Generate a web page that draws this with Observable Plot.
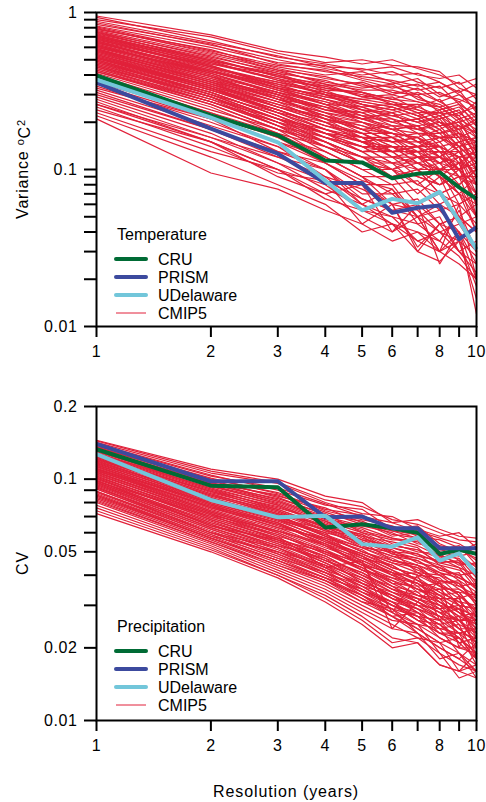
<!DOCTYPE html>
<html><head><meta charset="utf-8">
<script src="https://cdn.jsdelivr.net/npm/d3@7"></script>
<script src="https://cdn.jsdelivr.net/npm/@observablehq/plot@0.6"></script>
<style>
body{margin:0;background:#fff;}
#wrap{position:relative;width:486px;height:802px;font-family:"Liberation Sans",Arial,Helvetica,sans-serif;}
#wrap > svg{display:block;}
#legend{position:absolute;left:0;top:0;pointer-events:none;}
</style></head><body><div id="wrap"></div>
<script>
// ---------- data ----------
const resolution = [1,2,3,4,5,6,7,8,9,10];
const xTickLabels = ["1","2","3","4","5","6","","8","","10"];
const xTitle = "Resolution (years)";

const yTicksTemp = [0.01,0.02,0.03,0.04,0.05,0.06,0.07,0.08,0.09,0.1,0.2,0.3,0.4,0.5,0.6,0.7,0.8,0.9,1];
const yTickLabelsTemp = ["0.01","","","","","","","","","0.1","","","","","","","","","1"];
const yTicksPrec = [0.01,0.02,0.03,0.04,0.05,0.06,0.07,0.08,0.09,0.1,0.2];
const yTickLabelsPrec = ["0.01","0.02","","","0.05","","","","","0.1","0.2"];

const seriesNames = ["CRU","PRISM","UDelaware","CMIP5"];
const seriesColors = ["#006b35","#3c4a9e","#72c6da","#e1213a"];

// Temperature variance (°C²)
const cruTemp   = [0.397,0.221,0.165,0.114,0.111,0.088,0.094,0.096,0.077,0.065];
const prismTemp = [0.358,0.182,0.126,0.082,0.082,0.053,0.057,0.059,0.036,0.043];
const udelTemp  = [0.374,0.214,0.149,0.085,0.055,0.065,0.061,0.072,0.047,0.031];
const cmip5Temp = [
 [0.95,0.72,0.57,0.52,0.47,0.50,0.44,0.40,0.35,0.38],
 [0.90,0.70,0.55,0.48,0.50,0.46,0.45,0.42,0.33,0.30],
 [0.86,0.62,0.50,0.44,0.40,0.42,0.36,0.33,0.36,0.28],
 [0.82,0.60,0.48,0.46,0.38,0.35,0.38,0.30,0.28,0.25],
 [0.80,0.55,0.45,0.40,0.42,0.36,0.32,0.34,0.26,0.22],
 [0.78,0.58,0.44,0.38,0.35,0.30,0.33,0.27,0.30,0.24],
 [0.76,0.52,0.42,0.36,0.33,0.35,0.28,0.26,0.22,0.27],
 [0.74,0.50,0.40,0.34,0.36,0.31,0.30,0.23,0.25,0.20],
 [0.72,0.48,0.38,0.33,0.30,0.27,0.25,0.28,0.21,0.18],
 [0.70,0.47,0.40,0.31,0.28,0.29,0.24,0.22,0.24,0.17],
 [0.69,0.45,0.36,0.32,0.26,0.24,0.26,0.20,0.18,0.21],
 [0.67,0.46,0.34,0.29,0.27,0.25,0.22,0.24,0.17,0.15],
 [0.66,0.42,0.35,0.28,0.25,0.22,0.23,0.19,0.20,0.14],
 [0.64,0.43,0.32,0.27,0.24,0.23,0.20,0.21,0.15,0.16],
 [0.63,0.40,0.31,0.26,0.22,0.20,0.21,0.17,0.19,0.12],
 [0.62,0.41,0.30,0.25,0.23,0.19,0.18,0.20,0.16,0.18],
 [0.60,0.39,0.29,0.24,0.21,0.21,0.17,0.16,0.14,0.11],
 [0.59,0.37,0.30,0.23,0.20,0.18,0.19,0.15,0.17,0.13],
 [0.58,0.38,0.28,0.22,0.19,0.17,0.16,0.18,0.13,0.10],
 [0.57,0.36,0.27,0.23,0.18,0.19,0.15,0.14,0.15,0.12],
 [0.56,0.35,0.26,0.21,0.19,0.16,0.17,0.13,0.12,0.09],
 [0.55,0.36,0.25,0.20,0.17,0.17,0.14,0.15,0.11,0.13],
 [0.54,0.34,0.26,0.21,0.16,0.15,0.15,0.12,0.14,0.08],
 [0.53,0.33,0.24,0.19,0.17,0.14,0.13,0.14,0.10,0.11],
 [0.52,0.34,0.23,0.18,0.15,0.16,0.12,0.11,0.13,0.09],
 [0.51,0.32,0.24,0.19,0.16,0.13,0.14,0.10,0.09,0.07],
 [0.50,0.31,0.22,0.17,0.14,0.14,0.11,0.12,0.10,0.12],
 [0.49,0.30,0.21,0.18,0.15,0.12,0.13,0.09,0.11,0.06],
 [0.48,0.31,0.22,0.16,0.13,0.13,0.10,0.11,0.08,0.10],
 [0.47,0.29,0.20,0.17,0.14,0.11,0.12,0.10,0.12,0.05],
 [0.46,0.28,0.21,0.15,0.12,0.12,0.09,0.08,0.09,0.08],
 [0.45,0.29,0.19,0.16,0.13,0.10,0.11,0.09,0.07,0.09],
 [0.44,0.27,0.20,0.14,0.11,0.11,0.08,0.10,0.06,0.07],
 [0.43,0.26,0.18,0.15,0.12,0.09,0.10,0.07,0.08,0.04],
 [0.42,0.27,0.19,0.13,0.10,0.10,0.07,0.09,0.05,0.06],
 [0.41,0.25,0.17,0.14,0.11,0.09,0.10,0.07,0.08,0.05],
 [0.40,0.24,0.18,0.12,0.09,0.09,0.06,0.07,0.045,0.05],
 [0.38,0.23,0.16,0.13,0.10,0.08,0.085,0.06,0.07,0.04],
 [0.36,0.22,0.15,0.11,0.08,0.08,0.05,0.06,0.05,0.04],
 [0.35,0.21,0.15,0.12,0.09,0.07,0.075,0.055,0.06,0.045],
 [0.34,0.20,0.14,0.10,0.07,0.07,0.05,0.055,0.04,0.025],
 [0.33,0.21,0.13,0.11,0.08,0.06,0.065,0.045,0.05,0.04],
 [0.32,0.19,0.14,0.09,0.075,0.06,0.055,0.04,0.045,0.03],
 [0.30,0.18,0.12,0.10,0.065,0.055,0.06,0.045,0.03,0.035],
 [0.29,0.17,0.11,0.085,0.065,0.055,0.05,0.04,0.035,0.028],
 [0.28,0.16,0.12,0.09,0.06,0.05,0.045,0.05,0.03,0.022],
 [0.27,0.15,0.10,0.08,0.055,0.05,0.035,0.03,0.04,0.012],
 [0.26,0.16,0.11,0.075,0.06,0.045,0.04,0.035,0.028,0.02],
 [0.25,0.14,0.095,0.085,0.045,0.06,0.032,0.045,0.04,0.03],
 [0.24,0.15,0.09,0.07,0.05,0.04,0.05,0.03,0.035,0.015],
 [0.23,0.13,0.10,0.065,0.055,0.045,0.035,0.04,0.03,0.025],
 [0.22,0.12,0.08,0.06,0.04,0.045,0.03,0.026,0.035,0.018],
 [0.21,0.095,0.075,0.055,0.045,0.035,0.04,0.03,0.025,0.02],
 [0.75,0.49,0.37,0.30,0.27,0.25,0.22,0.20,0.19,0.16],
 [0.71,0.46,0.33,0.30,0.24,0.20,0.21,0.18,0.14,0.15],
 [0.68,0.44,0.33,0.26,0.21,0.23,0.18,0.16,0.17,0.10],
 [0.65,0.41,0.31,0.24,0.22,0.18,0.19,0.14,0.12,0.13],
 [0.61,0.40,0.28,0.25,0.20,0.17,0.14,0.16,0.13,0.09],
 [0.58,0.36,0.29,0.21,0.18,0.15,0.16,0.12,0.15,0.11],
 [0.56,0.37,0.27,0.20,0.20,0.16,0.13,0.13,0.10,0.14],
 [0.54,0.33,0.25,0.22,0.17,0.13,0.14,0.11,0.12,0.07],
 [0.52,0.32,0.23,0.20,0.15,0.14,0.12,0.13,0.09,0.10],
 [0.50,0.30,0.23,0.17,0.16,0.12,0.11,0.10,0.11,0.06],
 [0.47,0.30,0.21,0.16,0.14,0.13,0.10,0.08,0.10,0.08],
 [0.45,0.27,0.20,0.15,0.11,0.10,0.12,0.09,0.07,0.05],
 [0.64,0.44,0.36,0.30,0.25,0.26,0.23,0.19,0.20,0.17],
 [0.70,0.50,0.39,0.33,0.31,0.28,0.27,0.25,0.21,0.23],
 [0.60,0.42,0.33,0.28,0.24,0.22,0.20,0.22,0.18,0.20],
 [0.39,0.23,0.17,0.12,0.09,0.06,0.03,0.045,0.05,0.03],
 [0.37,0.22,0.16,0.11,0.085,0.075,0.05,0.03,0.06,0.02],
 [0.93,0.66,0.52,0.47,0.43,0.45,0.40,0.38,0.40,0.33],
 [0.88,0.64,0.53,0.45,0.44,0.40,0.41,0.36,0.31,0.35],
 [0.84,0.63,0.47,0.42,0.39,0.37,0.34,0.36,0.30,0.26],
 [0.81,0.57,0.46,0.43,0.37,0.33,0.35,0.29,0.32,0.23],
 [0.79,0.56,0.43,0.39,0.34,0.34,0.30,0.31,0.27,0.30],
 [0.77,0.54,0.43,0.35,0.32,0.32,0.29,0.25,0.27,0.21],
 [0.75,0.53,0.41,0.37,0.31,0.28,0.31,0.27,0.23,0.25],
 [0.73,0.51,0.39,0.35,0.29,0.30,0.27,0.24,0.26,0.19],
 [0.72,0.49,0.41,0.32,0.31,0.26,0.26,0.25,0.20,0.22],
 [0.71,0.48,0.37,0.34,0.29,0.27,0.23,0.23,0.22,0.16],
 [0.69,0.47,0.38,0.30,0.28,0.26,0.24,0.21,0.23,0.19],
 [0.68,0.45,0.35,0.31,0.26,0.23,0.25,0.22,0.16,0.14],
 [0.66,0.45,0.34,0.29,0.26,0.24,0.21,0.23,0.19,0.17],
 [0.65,0.43,0.33,0.28,0.23,0.25,0.22,0.18,0.21,0.13],
 [0.63,0.42,0.32,0.26,0.25,0.21,0.19,0.20,0.17,0.15],
 [0.62,0.39,0.31,0.27,0.22,0.22,0.20,0.17,0.18,0.12],
 [0.61,0.41,0.30,0.24,0.23,0.20,0.18,0.19,0.14,0.16],
 [0.59,0.38,0.30,0.25,0.21,0.19,0.19,0.16,0.16,0.10],
 [0.58,0.39,0.28,0.23,0.21,0.18,0.17,0.17,0.13,0.14],
 [0.57,0.37,0.28,0.22,0.20,0.18,0.15,0.16,0.14,0.11],
 [0.55,0.35,0.27,0.22,0.18,0.17,0.16,0.14,0.12,0.12],
 [0.54,0.35,0.25,0.21,0.18,0.15,0.16,0.13,0.13,0.09],
 [0.53,0.34,0.25,0.20,0.16,0.16,0.14,0.12,0.11,0.10],
 [0.52,0.33,0.24,0.19,0.17,0.14,0.14,0.14,0.12,0.08],
 [0.51,0.33,0.23,0.18,0.16,0.15,0.12,0.12,0.10,0.11],
 [0.50,0.32,0.24,0.18,0.15,0.13,0.13,0.11,0.10,0.07],
 [0.49,0.31,0.22,0.17,0.15,0.12,0.12,0.12,0.09,0.09],
 [0.48,0.29,0.21,0.17,0.13,0.14,0.11,0.10,0.10,0.06],
 [0.46,0.29,0.20,0.16,0.14,0.11,0.11,0.09,0.08,0.10],
 [0.44,0.28,0.19,0.15,0.12,0.11,0.10,0.10,0.07,0.06],
 [0.43,0.27,0.19,0.14,0.12,0.10,0.09,0.08,0.09,0.05],
 [0.42,0.26,0.18,0.14,0.11,0.10,0.08,0.07,0.06,0.07],
 [0.31,0.18,0.13,0.10,0.06,0.075,0.045,0.035,0.055,0.03],
 [0.26,0.15,0.10,0.07,0.08,0.04,0.06,0.025,0.04,0.02]
];

// Precipitation coefficient of variation
const cruPrec   = [0.133,0.094,0.0925,0.063,0.065,0.0626,0.060,0.049,0.051,0.049];
const prismPrec = [0.140,0.098,0.098,0.0695,0.070,0.0626,0.0626,0.0517,0.0517,0.0517];
const udelPrec  = [0.127,0.082,0.0695,0.0706,0.0538,0.0525,0.0574,0.046,0.0493,0.0405];
const cmip5Prec = [
 [0.145,0.110,0.100,0.085,0.080,0.066,0.068,0.062,0.058,0.057],
 [0.142,0.106,0.096,0.080,0.072,0.070,0.062,0.058,0.060,0.052],
 [0.140,0.104,0.090,0.078,0.075,0.062,0.064,0.054,0.050,0.054],
 [0.138,0.100,0.088,0.074,0.068,0.064,0.058,0.056,0.052,0.046],
 [0.136,0.098,0.085,0.076,0.066,0.058,0.060,0.050,0.048,0.050],
 [0.134,0.097,0.082,0.070,0.064,0.060,0.054,0.052,0.046,0.042],
 [0.132,0.095,0.083,0.072,0.060,0.056,0.056,0.047,0.050,0.040],
 [0.130,0.093,0.080,0.068,0.062,0.054,0.050,0.049,0.044,0.045],
 [0.128,0.092,0.078,0.066,0.058,0.055,0.052,0.044,0.042,0.038],
 [0.126,0.090,0.076,0.067,0.057,0.052,0.048,0.046,0.045,0.036],
 [0.124,0.088,0.075,0.063,0.059,0.050,0.049,0.042,0.040,0.041],
 [0.122,0.087,0.073,0.062,0.054,0.051,0.045,0.043,0.038,0.034],
 [0.121,0.085,0.072,0.064,0.053,0.048,0.046,0.040,0.041,0.032],
 [0.119,0.084,0.070,0.060,0.055,0.046,0.044,0.041,0.036,0.037],
 [0.118,0.083,0.071,0.058,0.052,0.047,0.042,0.038,0.037,0.030],
 [0.116,0.082,0.068,0.059,0.050,0.045,0.043,0.036,0.034,0.033],
 [0.115,0.080,0.067,0.057,0.051,0.043,0.040,0.039,0.033,0.028],
 [0.113,0.079,0.066,0.055,0.049,0.044,0.038,0.035,0.035,0.031],
 [0.112,0.078,0.064,0.056,0.047,0.041,0.039,0.034,0.031,0.027],
 [0.110,0.076,0.065,0.054,0.048,0.042,0.036,0.037,0.030,0.029],
 [0.109,0.075,0.062,0.052,0.046,0.040,0.037,0.032,0.032,0.025],
 [0.107,0.074,0.061,0.053,0.044,0.039,0.035,0.033,0.028,0.026],
 [0.106,0.073,0.060,0.050,0.045,0.037,0.036,0.030,0.029,0.024],
 [0.104,0.072,0.058,0.051,0.042,0.038,0.033,0.031,0.027,0.028],
 [0.103,0.070,0.059,0.049,0.043,0.036,0.034,0.029,0.030,0.022],
 [0.101,0.069,0.057,0.047,0.041,0.035,0.032,0.030,0.025,0.023],
 [0.100,0.068,0.055,0.048,0.040,0.036,0.031,0.027,0.026,0.026],
 [0.098,0.067,0.054,0.046,0.039,0.034,0.032,0.028,0.024,0.021],
 [0.097,0.066,0.055,0.045,0.038,0.033,0.030,0.026,0.027,0.020],
 [0.095,0.065,0.052,0.044,0.039,0.032,0.029,0.027,0.023,0.024],
 [0.094,0.063,0.051,0.043,0.036,0.033,0.028,0.025,0.022,0.019],
 [0.092,0.062,0.050,0.044,0.035,0.031,0.029,0.024,0.025,0.018],
 [0.091,0.061,0.049,0.041,0.036,0.030,0.027,0.026,0.021,0.022],
 [0.089,0.060,0.048,0.040,0.034,0.031,0.026,0.023,0.023,0.017],
 [0.088,0.059,0.047,0.041,0.033,0.029,0.027,0.022,0.020,0.020],
 [0.086,0.058,0.046,0.039,0.032,0.028,0.025,0.024,0.019,0.016],
 [0.085,0.057,0.045,0.038,0.033,0.027,0.024,0.021,0.022,0.018],
 [0.083,0.056,0.044,0.037,0.031,0.029,0.023,0.020,0.018,0.021],
 [0.082,0.055,0.043,0.036,0.030,0.026,0.025,0.019,0.017,0.016],
 [0.080,0.054,0.042,0.035,0.029,0.025,0.022,0.021,0.016,0.019],
 [0.078,0.053,0.041,0.034,0.028,0.024,0.023,0.018,0.019,0.015],
 [0.076,0.052,0.040,0.033,0.027,0.022,0.021,0.017,0.016,0.017],
 [0.074,0.051,0.040,0.032,0.026,0.021,0.022,0.019,0.015,0.016],
 [0.072,0.050,0.039,0.031,0.025,0.020,0.021,0.017,0.016,0.015],
 [0.131,0.096,0.086,0.073,0.065,0.061,0.057,0.051,0.053,0.044],
 [0.127,0.094,0.081,0.069,0.063,0.057,0.053,0.048,0.047,0.039],
 [0.123,0.089,0.077,0.065,0.056,0.053,0.051,0.045,0.043,0.035],
 [0.120,0.086,0.074,0.061,0.058,0.049,0.047,0.044,0.039,0.036],
 [0.117,0.081,0.069,0.062,0.052,0.050,0.041,0.040,0.035,0.032],
 [0.114,0.081,0.070,0.058,0.050,0.046,0.044,0.037,0.038,0.030],
 [0.111,0.077,0.063,0.057,0.048,0.040,0.041,0.036,0.032,0.034],
 [0.108,0.077,0.066,0.053,0.047,0.044,0.038,0.033,0.034,0.027],
 [0.105,0.071,0.061,0.054,0.044,0.041,0.034,0.035,0.030,0.029],
 [0.102,0.071,0.056,0.050,0.042,0.039,0.037,0.031,0.028,0.025],
 [0.099,0.064,0.056,0.046,0.041,0.035,0.033,0.032,0.026,0.027],
 [0.096,0.064,0.053,0.047,0.037,0.034,0.031,0.028,0.029,0.023],
 [0.093,0.060,0.052,0.042,0.037,0.032,0.030,0.029,0.024,0.024],
 [0.087,0.058,0.050,0.042,0.034,0.030,0.028,0.025,0.026,0.021],
 [0.084,0.057,0.046,0.039,0.035,0.030,0.026,0.025,0.021,0.022],
 [0.081,0.055,0.044,0.038,0.031,0.027,0.028,0.023,0.022,0.019],
 [0.110,0.080,0.068,0.060,0.045,0.028,0.040,0.026,0.033,0.018],
 [0.098,0.070,0.058,0.043,0.046,0.024,0.031,0.038,0.020,0.030],
 [0.144,0.108,0.097,0.082,0.077,0.068,0.065,0.060,0.056,0.055],
 [0.139,0.103,0.092,0.079,0.070,0.066,0.061,0.057,0.054,0.049],
 [0.137,0.101,0.087,0.075,0.071,0.061,0.059,0.053,0.051,0.047],
 [0.135,0.099,0.084,0.071,0.067,0.059,0.057,0.051,0.049,0.043],
 [0.133,0.096,0.081,0.069,0.061,0.057,0.055,0.048,0.045,0.044],
 [0.131,0.094,0.079,0.067,0.060,0.053,0.051,0.047,0.043,0.040],
 [0.129,0.091,0.078,0.065,0.059,0.052,0.049,0.045,0.046,0.037],
 [0.127,0.091,0.075,0.064,0.056,0.050,0.047,0.043,0.040,0.035],
 [0.125,0.089,0.074,0.063,0.055,0.049,0.046,0.041,0.039,0.036],
 [0.123,0.087,0.072,0.061,0.053,0.048,0.044,0.040,0.037,0.031],
 [0.121,0.086,0.071,0.059,0.052,0.046,0.043,0.038,0.036,0.033],
 [0.119,0.083,0.069,0.058,0.050,0.045,0.041,0.037,0.033,0.029],
 [0.117,0.082,0.068,0.056,0.049,0.043,0.040,0.036,0.034,0.028],
 [0.115,0.079,0.066,0.055,0.048,0.042,0.038,0.034,0.031,0.030],
 [0.113,0.078,0.065,0.054,0.046,0.041,0.037,0.033,0.030,0.026],
 [0.111,0.076,0.063,0.053,0.045,0.040,0.035,0.032,0.029,0.027],
 [0.109,0.074,0.061,0.051,0.044,0.038,0.035,0.031,0.028,0.024],
 [0.107,0.073,0.060,0.050,0.043,0.037,0.033,0.030,0.027,0.025],
 [0.105,0.072,0.059,0.049,0.042,0.036,0.032,0.029,0.026,0.022],
 [0.103,0.069,0.057,0.048,0.040,0.035,0.031,0.028,0.026,0.023],
 [0.101,0.068,0.056,0.046,0.040,0.034,0.030,0.027,0.024,0.021],
 [0.099,0.066,0.054,0.045,0.038,0.033,0.029,0.026,0.023,0.022],
 [0.097,0.065,0.053,0.044,0.037,0.032,0.028,0.025,0.022,0.019],
 [0.095,0.063,0.052,0.043,0.036,0.031,0.027,0.024,0.023,0.020],
 [0.093,0.062,0.050,0.041,0.035,0.030,0.026,0.023,0.021,0.018],
 [0.091,0.060,0.049,0.040,0.034,0.029,0.025,0.022,0.020,0.019],
 [0.089,0.059,0.047,0.039,0.033,0.028,0.024,0.021,0.019,0.017],
 [0.086,0.057,0.046,0.038,0.032,0.027,0.023,0.020,0.018,0.016]
];

// ---------- helpers ----------
const FONT = '"Liberation Sans", Arial, Helvetica, sans-serif';
const colorOf = name => seriesColors[seriesNames.indexOf(name)];
const tidy = (values, name) => resolution.map((x, i) => ({x, y: values[i], name}));
const tidyMany = lines => lines.flatMap((l, j) => l.map((v, i) => ({x: resolution[i], y: v, id: j})));

function panel({height, marginTop, marginBottom, yDomain, yTicks, yTickLabels, cmip, obs}) {
  return Plot.plot({
    width: 486, height, marginLeft: 96, marginRight: 10, marginTop, marginBottom,
    style: {fontSize: "16px", fontFamily: FONT, color: "#000", background: "#fff", overflow: "visible", letterSpacing: "0.6px"},
    x: {type: "log", domain: [1, 10]},
    y: {type: "log", domain: yDomain},
    marks: [
      Plot.line(tidyMany(cmip), {x: "x", y: "y", z: "id", stroke: colorOf("CMIP5"), strokeWidth: 1.2, strokeLinejoin: "miter"}),
      ...obs.map(([name, vals]) => Plot.line(tidy(vals, name), {x: "x", y: "y", stroke: colorOf(name), strokeWidth: 4, strokeLinejoin: "round", strokeLinecap: "butt"})),
      Plot.axisX({ticks: resolution, tickSize: 11, tickPadding: 8, strokeWidth: 2,
        tickFormat: d => xTickLabels[resolution.indexOf(d)], label: null}),
      Plot.axisY({ticks: yTicks, tickSize: 12, tickPadding: 7, strokeWidth: 2,
        tickFormat: d => yTickLabels[yTicks.indexOf(d)], label: null}),
      Plot.frame({stroke: "#000", strokeWidth: 2})
    ]
  });
}

const wrap = document.getElementById("wrap");
wrap.append(panel({
  height: 380, marginTop: 12, marginBottom: 54, yDomain: [0.01, 1],
  yTicks: yTicksTemp, yTickLabels: yTickLabelsTemp,
  cmip: cmip5Temp, obs: [["CRU", cruTemp], ["PRISM", prismTemp], ["UDelaware", udelTemp]]
}));
wrap.append(panel({
  height: 422, marginTop: 26, marginBottom: 82, yDomain: [0.01, 0.2],
  yTicks: yTicksPrec, yTickLabels: yTickLabelsPrec,
  cmip: cmip5Prec, obs: [["CRU", cruPrec], ["PRISM", prismPrec], ["UDelaware", udelPrec]]
}));

// ---------- titles and legends ----------
const leg = d3.select(wrap).append("svg").attr("id", "legend").attr("width", 486).attr("height", 802)
  .style("font-family", FONT);
const yt = leg.append("text").attr("transform", "translate(28,169) rotate(-90)").attr("text-anchor", "middle")
  .style("font-size", "16px").style("letter-spacing", "0.8px");
yt.append("tspan").text("Variance ");
yt.append("tspan").attr("dy", "-0.4em").style("font-size", "11px").text("o");
yt.append("tspan").attr("dy", "0.4em").text("C");
yt.append("tspan").attr("dy", "-0.45em").style("font-size", "11px").text("2");
leg.append("text").attr("transform", "translate(28,563) rotate(-90)").attr("text-anchor", "middle")
  .style("font-size", "16px").style("letter-spacing", "0.8px").text("CV");
leg.append("text").attr("x", 286).attr("y", 797).attr("text-anchor", "middle")
  .style("font-size", "16px").style("letter-spacing", "0.9px").text(xTitle);

function legend(title, top) {
  const g = leg.append("g").attr("transform", `translate(116,${top})`).style("font-size", "16px");
  g.append("text").attr("x", 1).attr("y", 0).text(title);
  seriesNames.forEach((name, i) => {
    const y = 19 + i * 18;
    g.append("line").attr("x1", 0).attr("x2", 30).attr("y1", y).attr("y2", y)
      .attr("stroke", colorOf(name)).attr("stroke-width", name === "CMIP5" ? 1 : 4).attr("stroke-linecap", name === "CMIP5" ? "butt" : "round");
    g.append("text").attr("x", 42).attr("y", y).attr("dy", "0.35em").text(name);
  });
}
legend("Temperature", 240);
legend("Precipitation", 632);
</script></body></html>
